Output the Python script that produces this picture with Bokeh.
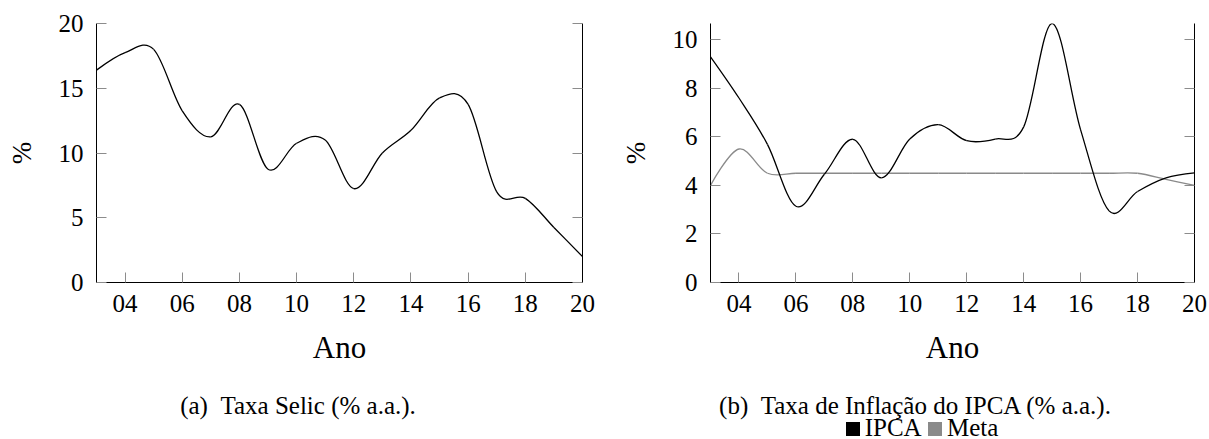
from bokeh.plotting import figure
from bokeh.models import Range1d, LinearAxis, FixedTicker, ColumnDataSource, Div
from bokeh.layouts import row, column
from bokeh.embed import file_html
from bokeh.resources import INLINE

# ---------------- data ----------------
years = list(range(2003, 2021))
selic = [16.4, 17.75, 18.0, 13.25, 11.25, 13.75, 8.75, 10.75, 11.0,
         7.25, 10.0, 11.75, 14.25, 13.75, 7.0, 6.5, 4.25, 2.0]
ipca = [9.30, 7.60, 5.69, 3.14, 4.46, 5.90, 4.31, 5.91, 6.50,
        5.84, 5.91, 6.41, 10.67, 6.29, 2.95, 3.75, 4.31, 4.52]
meta = [4.0, 5.5, 4.5, 4.5, 4.5, 4.5, 4.5, 4.5, 4.5,
        4.5, 4.5, 4.5, 4.5, 4.5, 4.5, 4.5, 4.25, 4.0]
x_ticks = [2004, 2006, 2008, 2010, 2012, 2014, 2016, 2018, 2020]
x_tick_labels = ["04", "06", "08", "10", "12", "14", "16", "18", "20"]
selic_y_ticks = [0, 5, 10, 15, 20]
ipca_y_ticks = [0, 2, 4, 6, 8, 10]
series_names = ["IPCA", "Meta"]
x_label = "Ano"
y_label = "%"
captions = ["(a)&nbsp;&nbsp;Taxa Selic (% a.a.).",
            "(b)&nbsp;&nbsp;Taxa de Inflação do IPCA (% a.a.)."]

# ---------------- style ----------------
FONT = "Liberation Serif"
H = 375
TOP = 23
FRAME_H = 259
TENSION = 0.17
TICK_GRAY = "#8c8c8c"
SERIES_COLORS = ["black", "#8a8a8a"]
W1, W2 = 605, 604


def smooth_source(xs, ys, t=TENSION):
    """Cubic Bezier segments like TikZ 'smooth' (control points from neighbours)."""
    n = len(xs)
    tx = [0.0] * n
    ty = [0.0] * n
    for i in range(1, n - 1):
        tx[i] = t * (xs[i + 1] - xs[i - 1])
        ty[i] = t * (ys[i + 1] - ys[i - 1])
    return ColumnDataSource(dict(
        x0=xs[:-1], y0=ys[:-1], x1=xs[1:], y1=ys[1:],
        cx0=[xs[i] + tx[i] for i in range(n - 1)],
        cy0=[ys[i] + ty[i] for i in range(n - 1)],
        cx1=[xs[i + 1] - tx[i + 1] for i in range(n - 1)],
        cy1=[ys[i + 1] - ty[i + 1] for i in range(n - 1)],
    ))


def style_axis(ax, label_size="25px"):
    ax.axis_line_color = "black"
    ax.axis_line_width = 1
    ax.major_tick_in = 10
    ax.major_tick_out = 0
    ax.major_tick_line_color = TICK_GRAY
    ax.major_tick_line_width = 1
    ax.minor_tick_line_color = None
    ax.major_label_text_font = FONT
    ax.major_label_text_font_size = label_size
    ax.major_label_text_color = "black"


def make_fig(width, bl, br, y_max, y_ticks):
    p = figure(width=width, height=H,
               x_range=Range1d(2003, 2020), y_range=Range1d(0, y_max),
               output_backend="svg", toolbar_location=None,
               min_border_left=bl, min_border_right=br,
               min_border_top=TOP, min_border_bottom=H - TOP - FRAME_H)
    p.grid.visible = False
    p.outline_line_color = None
    p.background_fill_color = "white"
    p.border_fill_color = "white"

    xa = p.xaxis[0]
    xa.ticker = FixedTicker(ticks=x_ticks)
    xa.major_label_overrides = {t: l for t, l in zip(x_ticks, x_tick_labels)}
    style_axis(xa)
    xa.major_label_standoff = 12
    xa.axis_label = x_label
    xa.axis_label_text_font = FONT
    xa.axis_label_text_font_style = "normal"
    xa.axis_label_text_font_size = "31px"
    xa.axis_label_text_color = "black"
    xa.axis_label_standoff = 15

    ya = p.yaxis[0]
    ya.ticker = FixedTicker(ticks=y_ticks)
    style_axis(ya)
    ya.major_label_standoff = 13
    ya.axis_label = y_label
    ya.axis_label_text_font = FONT
    ya.axis_label_text_font_style = "normal"
    ya.axis_label_text_font_size = "27px"
    ya.axis_label_text_color = "black"
    ya.axis_label_standoff = 19

    ra = LinearAxis(ticker=FixedTicker(ticks=y_ticks))
    style_axis(ra, label_size="0px")
    ra.major_label_standoff = 0
    p.add_layout(ra, "right")
    return p


def bez(p, xs, ys, color):
    p.bezier(x0="x0", y0="y0", x1="x1", y1="y1", cx0="cx0", cy0="cy0",
             cx1="cx1", cy1="cy1", source=smooth_source(xs, ys),
             line_color=color, line_width=1.3)


# ---------------- (a) Selic ----------------
p1 = make_fig(W1, 96, 23, 20, selic_y_ticks)
bez(p1, years, selic, SERIES_COLORS[0])

# ---------------- (b) IPCA ----------------
p2 = make_fig(W2, 105, 15, 10.67, ipca_y_ticks)
bez(p2, years, meta, SERIES_COLORS[1])
bez(p2, years, ipca, SERIES_COLORS[0])

# ---------------- captions / legend ----------------
TXT = (f"font-family:'{FONT}',serif;font-size:25px;color:black;"
       "white-space:nowrap;text-align:center;display:block;box-sizing:border-box;")

cap_a = Div(text=(f'<div style="{TXT}width:{W1}px;padding-top:18px;padding-right:9px;'
                  f'line-height:26px;">{captions[0]}</div>'),
            width=W1, height=64, margin=(0, 0, 0, 0))

swatch = ('<span style="display:inline-block;width:14px;height:14px;'
          'background:{c};vertical-align:0px;margin-right:5px;"></span>')
legend_html = "&nbsp;".join(swatch.format(c=c) + n
                            for n, c in zip(series_names, SERIES_COLORS))
cap_b = Div(text=(f'<div style="{TXT}width:{W2}px;padding-top:18px;padding-left:16px;">'
                  f'<div style="{TXT}width:{W2 - 16}px;line-height:26px;">{captions[1]}</div>'
                  f'<div style="{TXT}width:{W2 - 16}px;line-height:18px;padding-left:14px;">'
                  f'{legend_html}</div>'
                  '</div>'),
            width=W2, height=64, margin=(0, 0, 0, 0))

layout = column(row(p1, p2), row(cap_a, cap_b))
open("out.html", "w").write(file_html(layout, INLINE))
